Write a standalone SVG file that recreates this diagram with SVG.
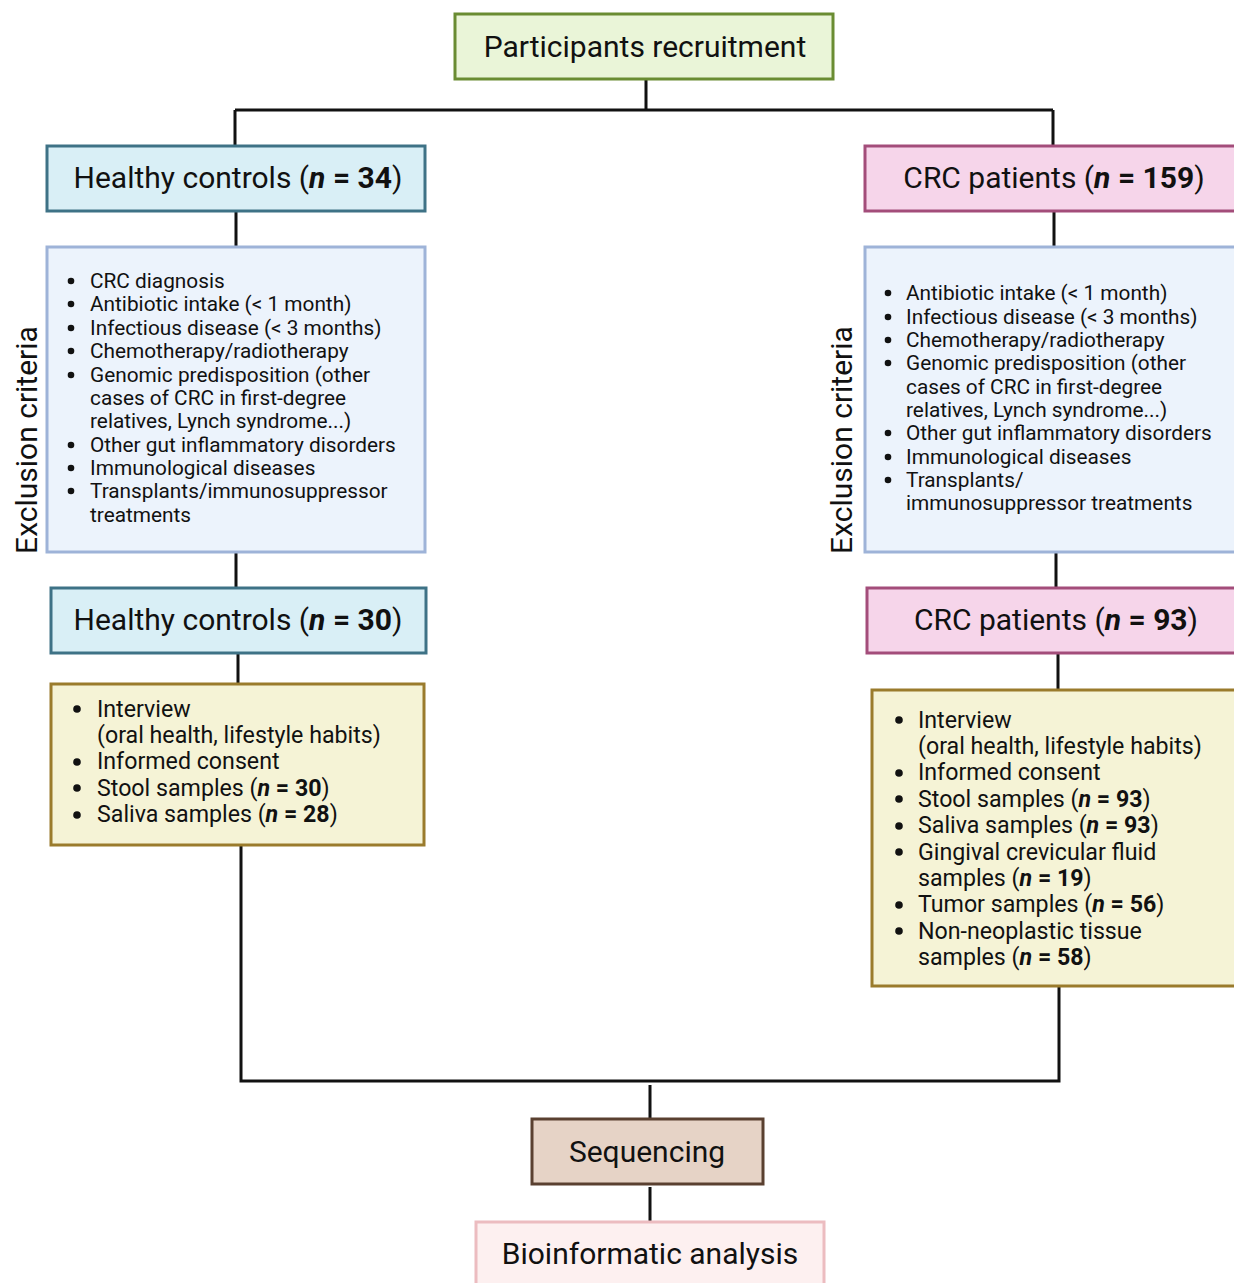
<svg xmlns="http://www.w3.org/2000/svg" width="1234" height="1283" viewBox="0 0 1234 1283">
<style>
text{font-family:Roboto,"Liberation Sans",sans-serif;fill:#111}
.t{font-size:30px;text-anchor:middle}
.l{font-size:20.8px}
.y{font-size:23.2px}
.b{font-weight:bold}
.n{font-weight:bold;font-style:italic}
.box{stroke-width:3}
.con{stroke:#111;stroke-width:3;fill:none}
circle{fill:#111}
.ld circle{r:3.3px}
.yd circle{r:3.8px}
</style>
<rect width="1234" height="1283" fill="#fff"/>
<g id="connectors">
<path class="con" d="M646 80V110M235 110H1053M235 110V145M1053 110V145"/>
<path class="con" d="M236 211V246M1054 211V246"/>
<path class="con" d="M236 552V587M1056 552V587"/>
<path class="con" d="M238 653V683M1058 653V689"/>
<path class="con" d="M241 846V1081H1059V986"/>
<path class="con" d="M650 1085V1118M650 1187V1221"/>
</g>
<g id="recruit">
<rect class="box" x="455" y="14" width="378" height="65" fill="#eaf5d8" stroke="#6a8c32"/>
<text class="t" x="645" y="57">Participants recruitment</text>
</g>
<g id="hc34">
<rect class="box" x="47" y="146" width="378" height="65" fill="#d9eff6" stroke="#3e7286"/>
<text class="t" x="238" y="188">Healthy controls (<tspan class="n">n</tspan><tspan class="b"> = 34</tspan>)</text>
</g>
<g id="crc159">
<rect class="box" x="865" y="146" width="372" height="65" fill="#f6d5ea" stroke="#a34d7a"/>
<text class="t" x="1054" y="188">CRC patients (<tspan class="n">n</tspan><tspan class="b"> = 159</tspan>)</text>
</g>
<g id="excl-left">
<rect class="box" x="47" y="247" width="378" height="305" fill="#ecf3fc" stroke="#9eb3d8"/>
<text class="t" transform="translate(37 440) rotate(-90)" x="0" y="0">Exclusion criteria</text>
<g class="ld">
<circle cx="71" cy="281" r="3.3"/><circle cx="71" cy="304" r="3.3"/><circle cx="71" cy="328" r="3.3"/><circle cx="71" cy="351" r="3.3"/><circle cx="71" cy="375" r="3.3"/><circle cx="71" cy="445" r="3.3"/><circle cx="71" cy="468" r="3.3"/><circle cx="71" cy="491" r="3.3"/>
</g>
<g class="l">
<text x="90" y="288">CRC diagnosis</text>
<text x="90" y="311">Antibiotic intake (&lt; 1 month)</text>
<text x="90" y="335">Infectious disease (&lt; 3 months)</text>
<text x="90" y="358">Chemotherapy/radiotherapy</text>
<text x="90" y="382">Genomic predisposition (other</text>
<text x="90" y="405">cases of CRC in first-degree</text>
<text x="90" y="428">relatives, Lynch syndrome...)</text>
<text x="90" y="452">Other gut inflammatory disorders</text>
<text x="90" y="475">Immunological diseases</text>
<text x="90" y="498">Transplants/immunosuppressor</text>
<text x="90" y="522">treatments</text>
</g>
</g>
<g id="excl-right">
<rect class="box" x="865" y="247" width="372" height="305" fill="#ecf3fc" stroke="#9eb3d8"/>
<text class="t" transform="translate(852 440) rotate(-90)" x="0" y="0">Exclusion criteria</text>
<g class="ld">
<circle cx="888" cy="293" r="3.3"/><circle cx="888" cy="317" r="3.3"/><circle cx="888" cy="340" r="3.3"/><circle cx="888" cy="363" r="3.3"/><circle cx="888" cy="433" r="3.3"/><circle cx="888" cy="457" r="3.3"/><circle cx="888" cy="480" r="3.3"/>
</g>
<g class="l">
<text x="906" y="300">Antibiotic intake (&lt; 1 month)</text>
<text x="906" y="324">Infectious disease (&lt; 3 months)</text>
<text x="906" y="347">Chemotherapy/radiotherapy</text>
<text x="906" y="370">Genomic predisposition (other</text>
<text x="906" y="394">cases of CRC in first-degree</text>
<text x="906" y="417">relatives, Lynch syndrome...)</text>
<text x="906" y="440">Other gut inflammatory disorders</text>
<text x="906" y="464">Immunological diseases</text>
<text x="906" y="487">Transplants/</text>
<text x="906" y="510">immunosuppressor treatments</text>
</g>
</g>
<g id="hc30">
<rect class="box" x="51" y="588" width="375" height="65" fill="#d9eff6" stroke="#3e7286"/>
<text class="t" x="238" y="630">Healthy controls (<tspan class="n">n</tspan><tspan class="b"> = 30</tspan>)</text>
</g>
<g id="crc93">
<rect class="box" x="867" y="588" width="370" height="65" fill="#f6d5ea" stroke="#a34d7a"/>
<text class="t" x="1056" y="630">CRC patients (<tspan class="n">n</tspan><tspan class="b"> = 93</tspan>)</text>
</g>
<g id="samples-left">
<rect class="box" x="51" y="684" width="373" height="161" fill="#f5f3d6" stroke="#9a7b2c"/>
<g class="yd">
<circle cx="77" cy="709" r="3.8"/><circle cx="77" cy="762" r="3.8"/><circle cx="77" cy="788" r="3.8"/><circle cx="77" cy="815" r="3.8"/>
</g>
<g class="y">
<text x="97" y="717">Interview</text>
<text x="97" y="743">(oral health, lifestyle habits)</text>
<text x="97" y="769">Informed consent</text>
<text x="97" y="796">Stool samples (<tspan class="n">n</tspan><tspan class="b"> = 30</tspan>)</text>
<text x="97" y="822">Saliva samples (<tspan class="n">n</tspan><tspan class="b"> = 28</tspan>)</text>
</g>
</g>
<g id="samples-right">
<rect class="box" x="872" y="690" width="365" height="296" fill="#f5f3d6" stroke="#9a7b2c"/>
<g class="yd">
<circle cx="899" cy="720" r="3.8"/><circle cx="899" cy="773" r="3.8"/><circle cx="899" cy="799" r="3.8"/><circle cx="899" cy="826" r="3.8"/><circle cx="899" cy="852" r="3.8"/><circle cx="899" cy="905" r="3.8"/><circle cx="899" cy="931" r="3.8"/>
</g>
<g class="y">
<text x="918" y="728">Interview</text>
<text x="918" y="754">(oral health, lifestyle habits)</text>
<text x="918" y="780">Informed consent</text>
<text x="918" y="807">Stool samples (<tspan class="n">n</tspan><tspan class="b"> = 93</tspan>)</text>
<text x="918" y="833">Saliva samples (<tspan class="n">n</tspan><tspan class="b"> = 93</tspan>)</text>
<text x="918" y="860">Gingival crevicular fluid</text>
<text x="918" y="886">samples (<tspan class="n">n</tspan><tspan class="b"> = 19</tspan>)</text>
<text x="918" y="912">Tumor samples (<tspan class="n">n</tspan><tspan class="b"> = 56</tspan>)</text>
<text x="918" y="939">Non-neoplastic tissue</text>
<text x="918" y="965">samples (<tspan class="n">n</tspan><tspan class="b"> = 58</tspan>)</text>
</g>
</g>
<g id="sequencing">
<rect class="box" x="532" y="1119" width="231" height="65" fill="#e6d3c6" stroke="#5a4030"/>
<text class="t" x="647" y="1162">Sequencing</text>
</g>
<g id="bioinfo">
<rect class="box" x="476" y="1222" width="348" height="70" fill="#fdf0f0" stroke="#ecbcc0"/>
<text class="t" x="650" y="1264">Bioinformatic analysis</text>
</g>
</svg>
